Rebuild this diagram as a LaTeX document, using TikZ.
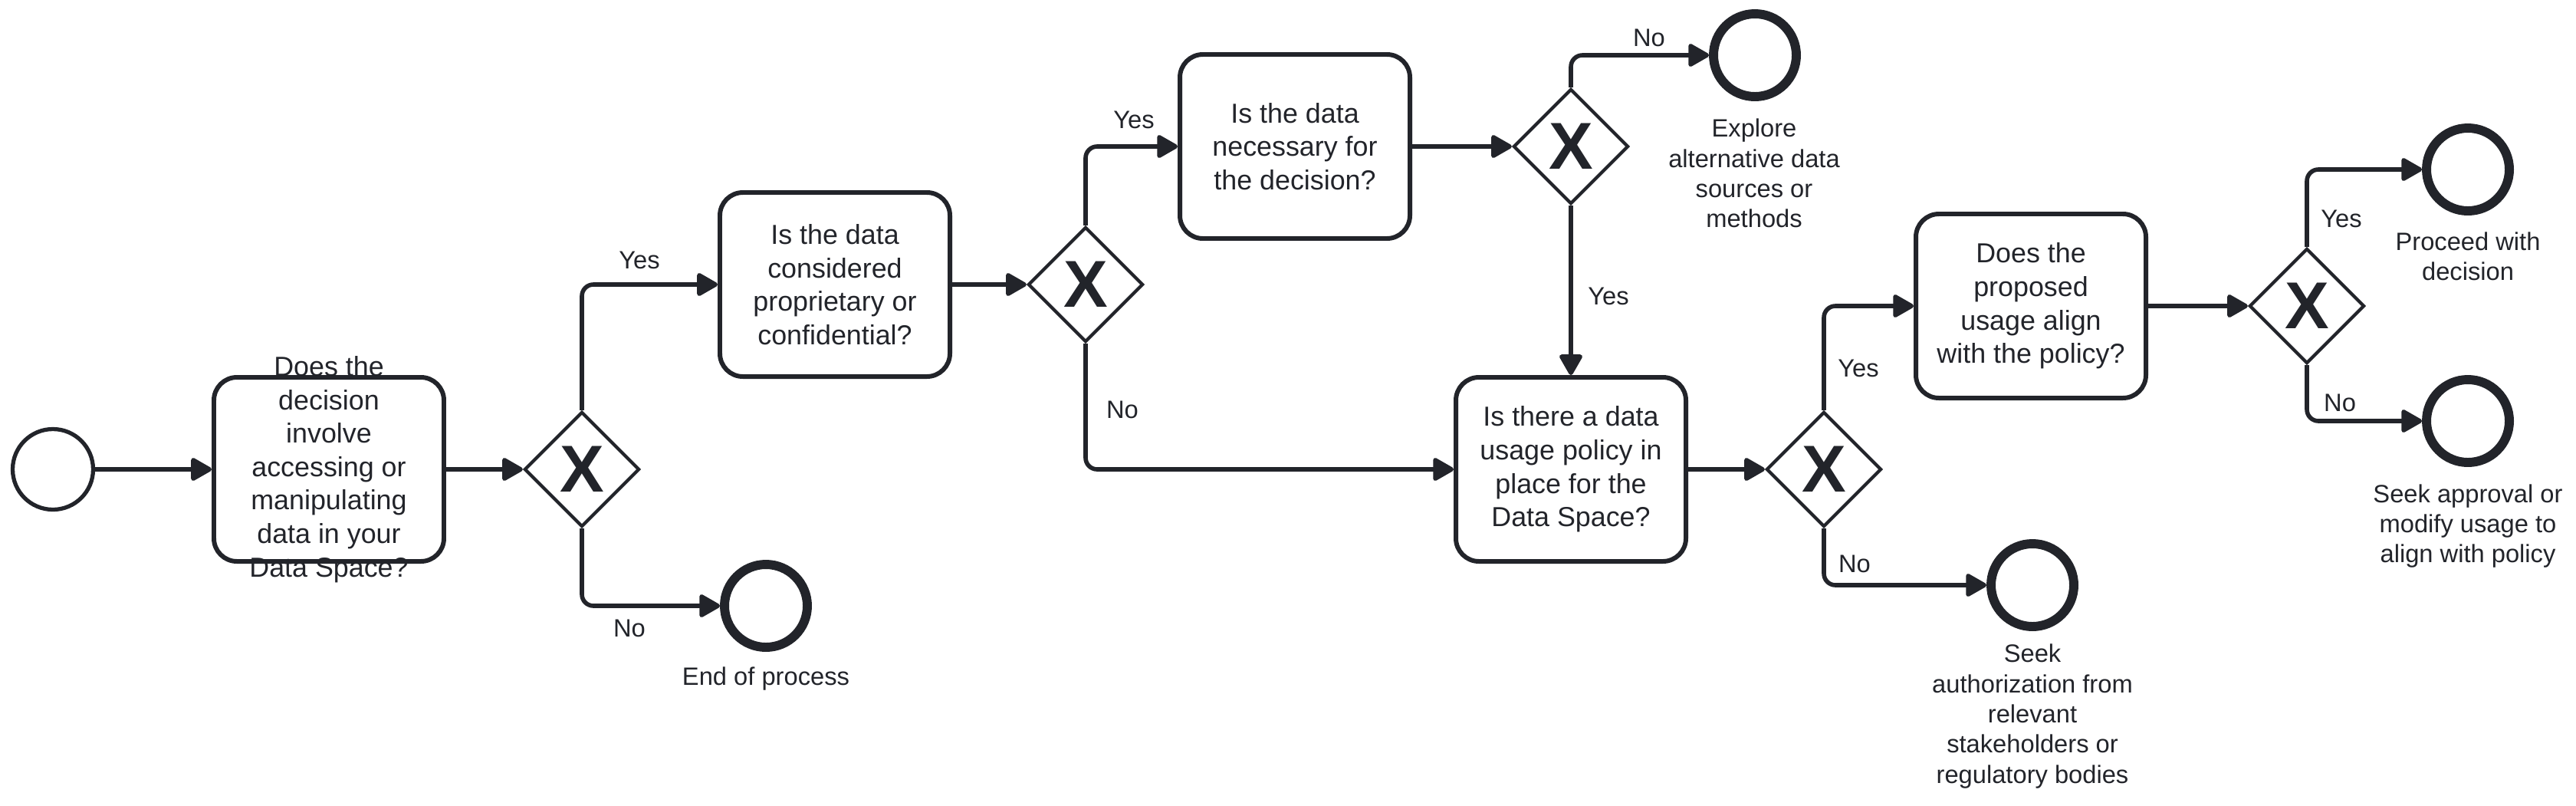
\documentclass[tikz,border=0pt]{standalone}
\usepackage{fontspec}
\setmainfont{Liberation Sans}
\usetikzlibrary{arrows.meta,shapes.geometric,positioning}
\definecolor{ink}{HTML}{22242A}
\tikzset{
  flow/.style={-{Triangle[length=8.5pt,width=9.2pt,round]},ink,line width=1.6pt,rounded corners=0.15cm},
  task/.style={draw=ink,line width=1.7pt,rounded corners=0.3cm,minimum width=3cm,minimum height=2.4cm,inner sep=0pt},
  tasktxt/.style={text=ink,align=center,inner sep=0pt,font=\fontsize{10.2}{12.4}\selectfont},
  gw/.style={diamond,draw=ink,line width=1.2pt,minimum width=1.5cm,minimum height=1.5cm,inner sep=0pt,text=ink,font=\fontsize{24.6}{24.6}\selectfont\bfseries},
  evstart/.style={circle,draw=ink,line width=1.5pt,minimum size=1.05cm,inner sep=0pt},
  evend/.style={circle,draw=ink,line width=3.4pt,minimum size=1.08cm,inner sep=0pt},
  lbl/.style={text=ink,inner sep=0pt,font=\fontsize{9.3}{11.2}\selectfont},
  note/.style={lbl,align=center},
}
\begin{document}
\begin{tikzpicture}
  \useasboundingbox (0,0) rectangle (33.6,-10.5);
  % events, tasks and gateways
  \node[evstart] (start) at (0.69,-6.12) {};
  \node[task] (ask) at (4.29,-6.12) {};
  \node[tasktxt] (asktxt) at (ask.center) {Does the\\decision\\involve\\accessing or\\manipulating\\data in your\\Data Space?};
  \node[gw] (gwuse) at (7.59,-6.12) {X};
  \node[evend] (stop) at (9.99,-7.90) {};
  \node[task,tasktxt] (prop) at (10.89,-3.71) {Is the data\\considered\\proprietary or\\confidential?};
  \node[gw] (gwprop) at (14.16,-3.71) {X};
  \node[task,tasktxt] (need) at (16.89,-1.91) {Is the data\\necessary for\\the decision?};
  \node[gw] (gwneed) at (20.49,-1.91) {X};
  \node[evend] (alt) at (22.89,-0.72) {};
  \node[task,tasktxt] (pol) at (20.49,-6.12) {Is there a data\\usage policy in\\place for the\\Data Space?};
  \node[gw] (gwpol) at (23.79,-6.12) {X};
  \node[evend] (auth) at (26.51,-7.63) {};
  \node[task,tasktxt] (match) at (26.49,-3.99) {Does the\\proposed\\usage align\\with the policy?};
  \node[gw] (gwmatch) at (30.09,-3.99) {X};
  \node[evend] (proceed) at (32.19,-2.21) {};
  \node[evend] (seek) at (32.19,-5.49) {};
  % event labels
  \node[note] (stoptxt) at (9.99,-8.85) {End of process};
  \node[note] (alttxt) at (22.88,-2.26) {Explore\\alternative data\\sources or\\methods};
  \node[note] (authtxt) at (26.51,-9.34) {Seek\\authorization from\\relevant\\stakeholders or\\regulatory bodies};
  \node[note] (proceedtxt) at (32.19,-3.34) {Proceed with\\decision};
  \node[note] (seektxt) at (32.19,-6.86) {Seek approval or\\modify usage to\\align with policy};
  % sequence flows
  \draw[flow] (start) -- (ask);
  \draw[flow] (ask) -- (gwuse);
  \draw[flow] (gwuse.north) |- (prop.west);
  \draw[flow] (gwuse.south) |- (stop.west);
  \draw[flow] (prop) -- (gwprop);
  \draw[flow] (gwprop.north) |- (need.west);
  \draw[flow] (gwprop.south) |- (pol.west);
  \draw[flow] (need) -- (gwneed);
  \draw[flow] (gwneed.north) |- (alt.west);
  \draw[flow] (gwneed) -- (pol);
  \draw[flow] (pol) -- (gwpol);
  \draw[flow] (gwpol.north) |- (match.west);
  \draw[flow] (gwpol.south) |- (auth.west);
  \draw[flow] (match) -- (gwmatch);
  \draw[flow] (gwmatch.north) |- (proceed.west);
  \draw[flow] (gwmatch.south) |- (seek.west);
  % flow labels
  \node[lbl] (yesuse) at (8.34,-3.39) {Yes};
  \node[lbl] (nouse) at (8.21,-8.19) {No};
  \node[lbl] (yesprop) at (14.79,-1.56) {Yes};
  \node[lbl] (noprop) at (14.64,-5.34) {No};
  \node[lbl] (noneed) at (21.51,-0.49) {No};
  \node[lbl] (yesneed) at (20.98,-3.86) {Yes};
  \node[lbl] (yespol) at (24.24,-4.80) {Yes};
  \node[lbl] (nopol) at (24.19,-7.35) {No};
  \node[lbl] (yesmatch) at (30.54,-2.85) {Yes};
  \node[lbl] (nomatch) at (30.52,-5.25) {No};
\end{tikzpicture}
\end{document}
